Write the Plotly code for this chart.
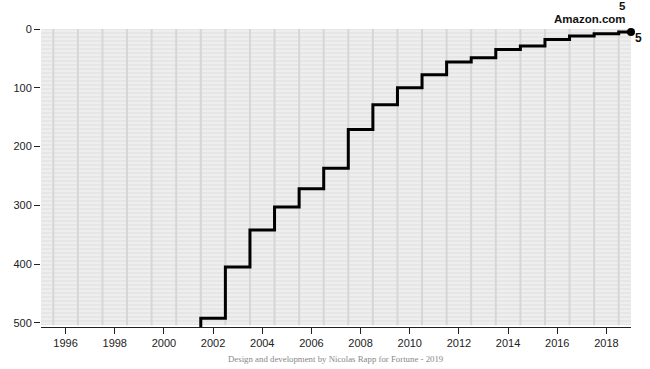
import plotly.graph_objects as go

# ---- data ----
years = list(range(1995, 2020))
amazon_years = [2002, 2003, 2004, 2005, 2006, 2007, 2008, 2009, 2010, 2011,
                2012, 2013, 2014, 2015, 2016, 2017, 2018, 2019]
amazon_ranks = [492, 405, 342, 303, 272, 237, 171, 129, 100, 78,
                56, 49, 35, 29, 18, 12, 8, 5]
company = "Amazon.com"
list_size = 504
x_ticks = list(range(1996, 2019, 2))
y_ticks = [0, 100, 200, 300, 400, 500]

fig = go.Figure()

# year columns
fig.add_trace(go.Bar(
    x=years, y=[list_size] * len(years), base=0, width=1.0,
    marker=dict(color="#e6e6e6", line=dict(width=0),
                pattern=dict(shape="-", fgcolor="#fbfbfb", bgcolor="#e6e6e6",
                             size=4, solidity=0.35)),
    hoverinfo="skip", showlegend=False))

# dividers between columns
dx, dy = [], []
for yr in years[:-1]:
    dx += [yr + 0.5, yr + 0.5, None]
    dy += [0, list_size, None]
fig.add_trace(go.Scatter(x=dx, y=dy, mode="lines",
                         line=dict(color="#d6d6d6", width=2),
                         hoverinfo="skip", showlegend=False))

# step line
sx = [amazon_years[0] - 0.5] + [yr - 0.5 for yr in amazon_years] + [amazon_years[-1]]
sy = [list_size + 3] + amazon_ranks + [amazon_ranks[-1]]
fig.add_trace(go.Scatter(x=sx, y=sy, mode="lines", line=dict(color="black", width=3, shape="hv"),
                         hoverinfo="skip", showlegend=False, cliponaxis=True))
fig.add_trace(go.Scatter(x=[amazon_years[-1]], y=[amazon_ranks[-1]], mode="markers",
                         marker=dict(color="black", size=8),
                         hoverinfo="skip", showlegend=False, cliponaxis=False))

lab_font = dict(family="Liberation Sans, Arial, sans-serif", size=12, color="#111")
top_font = dict(family="Liberation Sans, Arial, sans-serif", size=11.5, color="#111")
fig.add_annotation(x=amazon_years[-1], y=amazon_ranks[-1], text=f"<b>{company}</b>",
                   showarrow=False, xanchor="right", yanchor="middle", xshift=-3, yshift=13,
                   font=top_font)
fig.add_annotation(x=amazon_years[-1], y=amazon_ranks[-1], text=f"<b>{amazon_ranks[-1]}</b>",
                   showarrow=False, xanchor="right", yanchor="middle", xshift=-3, yshift=26,
                   font=top_font)
fig.add_annotation(x=amazon_years[-1], y=amazon_ranks[-1], text=f"<b>{amazon_ranks[-1]}</b>",
                   showarrow=False, xanchor="left", yanchor="middle", xshift=2, yshift=-6,
                   font=lab_font)

fig.add_annotation(x=0.5, y=-0.085, xref="paper", yref="paper",
                   text="Design and development by Nicolas Rapp for Fortune - 2019",
                   showarrow=False, xanchor="center", yanchor="top",
                   font=dict(family="Liberation Serif, Georgia, serif", size=8.8, color="#888"))

fig.update_layout(
    width=650, height=369,
    margin=dict(l=41, r=19, t=29, b=42),
    paper_bgcolor="white", plot_bgcolor="white",
    bargap=0, showlegend=False,
    font=dict(family="Liberation Sans, Arial, sans-serif", size=11, color="#222"),
)
fig.update_xaxes(range=[1995, 2019], tickmode="array", tickvals=x_ticks,
                 showgrid=False, zeroline=False, showline=True, linecolor="#222", linewidth=1,
                 ticks="outside", ticklen=6, tickcolor="#222",
                 tickfont=dict(size=11, color="#222"))
fig.update_yaxes(range=[507, 0], tickmode="array", tickvals=y_ticks,
                 showgrid=False, zeroline=False, showline=False,
                 ticks="outside", ticklen=6, tickcolor="#222",
                 tickfont=dict(size=11, color="#222"))

fig.write_html("out.html")
